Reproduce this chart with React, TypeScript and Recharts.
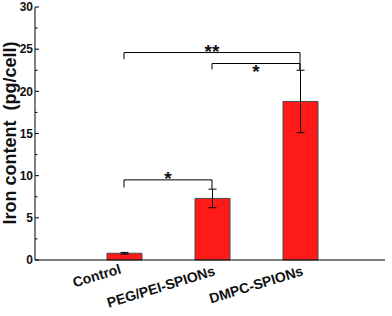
import React from 'react';
import { BarChart, Bar, XAxis, YAxis, ErrorBar, ReferenceLine, Label } from 'recharts';

const categories = ['Control', 'PEG/PEI-SPIONs', 'DMPC-SPIONs'];
const ironContent = [0.8, 7.3, 18.8];
const ironError = [0.1, 1.1, 3.7];
const yTicks = [0, 2.5, 5, 7.5, 10, 12.5, 15, 17.5, 20, 22.5, 25, 27.5, 30];
const yLabels = [0, 5, 10, 15, 20, 25, 30];

const bracketFrom = ['Control', 'PEG/PEI-SPIONs', 'Control'];
const bracketTo = ['DMPC-SPIONs', 'DMPC-SPIONs', 'PEG/PEI-SPIONs'];
const bracketLevel = [24.6, 23.3, 9.5];
const bracketLeftEnd = [23.8, 22.6, 8.6];
const bracketRightEnd = [22.5, 22.5, 8.4];
const bracketMark = ['**', '*', '*'];

const starDy = [5.5, 14.5, 5.5];

const data = categories.map((c, i) => ({ name: c, value: ironContent[i], err: ironError[i] }));

const FONT = '"Liberation Sans", Arial, sans-serif';

const YTick = (props: any) => {
  const { x, y, payload } = props;
  const v = payload.value;
  const major = yLabels.includes(v);
  return (
    <g>
      <line x1={x} y1={y} x2={x + (major ? 4 : 2.5)} y2={y} stroke="#000" strokeWidth={1} />
      {major && (
        <text x={x - 2} y={y} dy="0.36em" textAnchor="end" fontFamily={FONT} fontWeight="bold" fontSize={12} fill="#111">
          {v}
        </text>
      )}
    </g>
  );
};

const XTick = (props: any) => {
  const { x, y, payload, index } = props;
  const ax = x + (index === 0 ? -2 : 4);
  const ay = y + (index === 0 ? 13 : 15);
  return (
    <g transform={`translate(${ax} ${ay}) rotate(-17)`}>
      <text
        x={0}
        y={0}
        textAnchor="end"
        fontFamily={FONT}
        fontWeight="bold"
        fontSize={14}
        fill="#111"
      >
        {payload.value}
      </text>
    </g>
  );
};

const starContent = (mark: string, dy: number) => (props: any) => {
  const vb = props.viewBox || {};
  const cx = (vb.x ?? 0) + (vb.width ?? 0) / 2;
  const cy = (vb.y ?? 0) + dy;
  return (
    <text x={cx} y={cy} textAnchor="middle" fontFamily={FONT} fontWeight="bold" fontSize={19} fill="#111">
      {mark}
    </text>
  );
};

const yLabelContent = () => (
  <text
    x={16}
    y={133}
    transform="rotate(-90 16 133)"
    textAnchor="middle"
    fontFamily={FONT}
    fontWeight="bold"
    fontSize={18}
    fill="#111"
    style={{ whiteSpace: 'pre' }}
  >
    {'Iron content  (pg/cell)'}
  </text>
);

export default function App() {
  return (
    <div style={{ position: 'absolute', left: 0, top: 0, width: 392, height: 316, background: '#fff' }}>
      <BarChart width={392} height={316} data={data} margin={{ top: 7, right: 7, bottom: 0, left: 0 }}>
        <XAxis
          dataKey="name"
          height={56}
          padding={{ left: 45, right: 41 }}
          axisLine={{ stroke: '#000', strokeWidth: 1 }}
          tickLine={false}
          tickSize={0}
          tickMargin={0}
          tick={(p: any) => <XTick {...p} />}
          interval={0}
        />
        <XAxis
          xAxisId="top"
          orientation="top"
          dataKey="name"
          height={0}
          axisLine={{ stroke: '#000', strokeWidth: 1 }}
          tickLine={false}
          tick={false}
        />
        <YAxis
          width={35}
          domain={[0, 30]}
          ticks={yTicks}
          interval={0}
          tickSize={0}
          tickMargin={0}
          tickLine={false}
          axisLine={{ stroke: '#000', strokeWidth: 1 }}
          tick={(p: any) => <YTick {...p} />}
          label={{ content: yLabelContent }}
        />
        <YAxis
          yAxisId="right"
          orientation="right"
          width={0}
          domain={[0, 30]}
          axisLine={{ stroke: '#000', strokeWidth: 1 }}
          tickLine={false}
          tick={false}
        />
        <Bar dataKey="value" fill="#FF1A1A" stroke="#4a4a4a" strokeWidth={1} barSize={35} isAnimationActive={false}>
          <ErrorBar dataKey="err" width={4} stroke="#000" strokeWidth={1} direction="y" />
        </Bar>
        {bracketLevel.map((lvl, i) => (
          <ReferenceLine
            key={`h${i}`}
            segment={[
              { x: bracketFrom[i], y: lvl },
              { x: bracketTo[i], y: lvl },
            ]}
            stroke="#000"
            strokeWidth={1}
            ifOverflow="visible"
          >
            <Label content={starContent(bracketMark[i], starDy[i])} />
          </ReferenceLine>
        ))}
        {bracketLevel.map((lvl, i) => (
          <ReferenceLine
            key={`l${i}`}
            segment={[
              { x: bracketFrom[i], y: lvl },
              { x: bracketFrom[i], y: bracketLeftEnd[i] },
            ]}
            stroke="#000"
            strokeWidth={1}
            ifOverflow="visible"
          />
        ))}
        {bracketLevel.map((lvl, i) => (
          <ReferenceLine
            key={`r${i}`}
            segment={[
              { x: bracketTo[i], y: lvl },
              { x: bracketTo[i], y: bracketRightEnd[i] },
            ]}
            stroke="#000"
            strokeWidth={1}
            ifOverflow="visible"
          />
        ))}
      </BarChart>
    </div>
  );
}
